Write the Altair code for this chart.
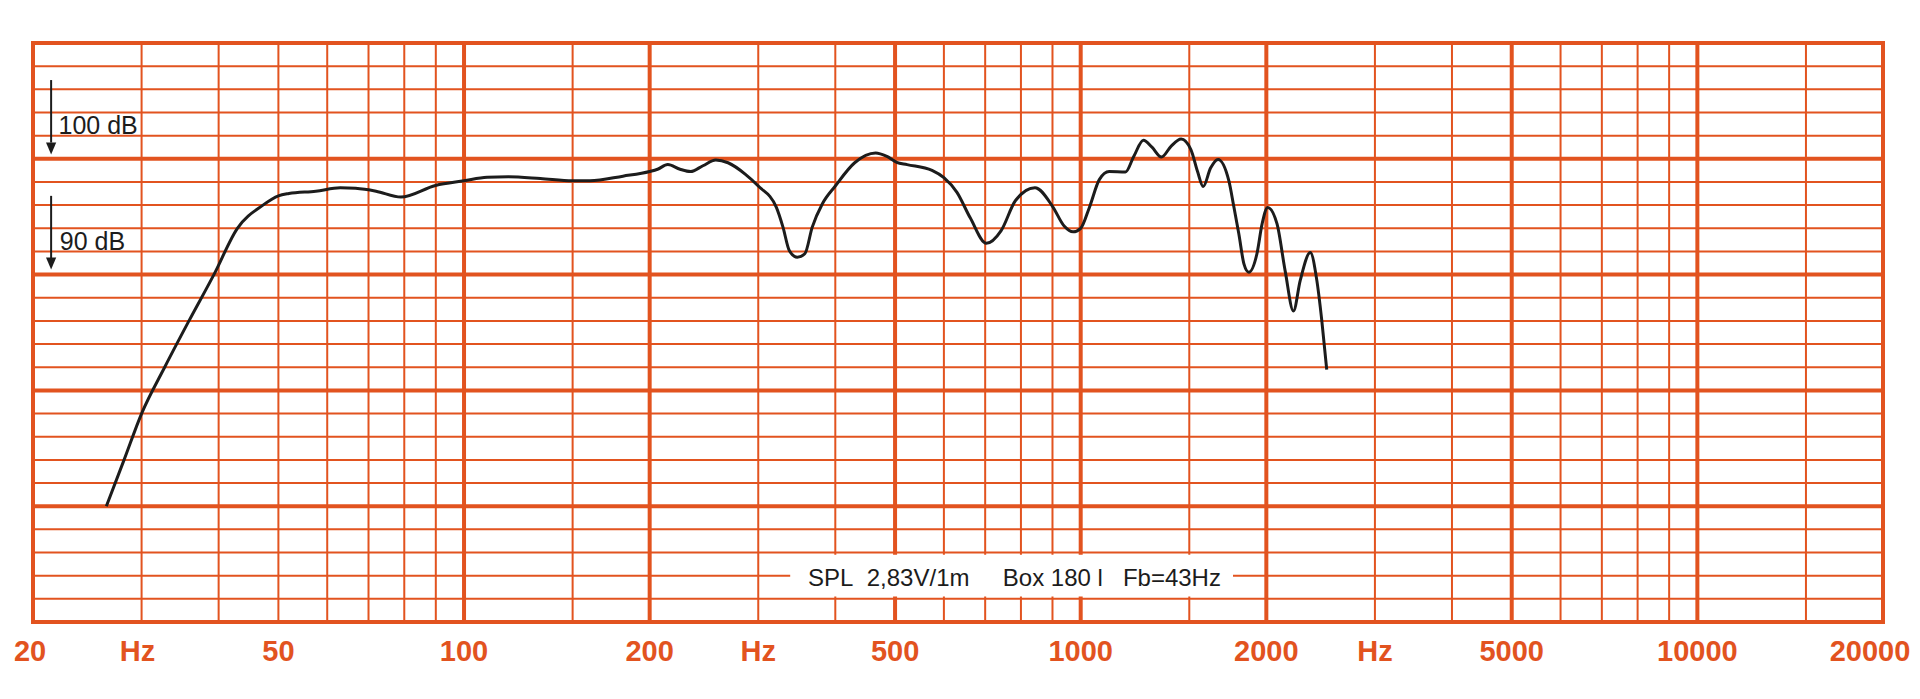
import altair as alt
import pandas as pd

# ---- curve (frequency in Hz, SPL in dB) ----
freq = [26.3, 28.1, 30, 32.7, 35.8, 39.3, 42.9, 47.2,
        50, 52, 57.5, 63, 66.7, 72, 79, 89.9,
        100, 109, 118, 133, 150, 160, 181, 200, 206, 214, 224, 233, 244, 256, 268, 286, 300,
        321, 329, 337, 347, 357, 367, 381, 400, 430, 465, 485, 503, 523, 574, 600, 630, 662,
        703, 743, 784, 843, 900, 940, 972, 1000, 1033, 1072, 1112, 1182, 1219, 1264, 1305,
        1352, 1402, 1455, 1509, 1547, 1580, 1624, 1670, 1739, 1771, 1805, 1840, 1873, 1931,
        1969, 2010, 2081, 2146, 2213, 2270, 2357, 2415, 2460, 2506]
spl = [70.0, 74.0, 78.0, 82.0, 86.0, 90.0, 94.0, 96.0,
       96.8, 97.0, 97.2, 97.5, 97.45, 97.2, 96.7, 97.7,
       98.1, 98.4, 98.45, 98.3, 98.1, 98.1, 98.5, 98.9, 99.1, 99.5, 99.1, 98.9,
       99.4, 99.9, 99.66, 98.66, 97.65, 95.8, 94.1, 92.06, 91.5, 91.8, 94.1, 96.1, 97.65, 99.66,
       100.5, 100.2, 99.7, 99.5, 99.0, 98.37, 97.1, 94.9, 92.7, 93.8, 96.4, 97.5, 95.9, 94.2,
       93.7, 94.0, 95.8, 98.2, 98.9, 98.86, 100.2, 101.6, 101.0, 100.15, 101.1, 101.7, 100.8,
       98.9, 97.6, 99.2, 99.95, 98.1, 95.9, 93.5, 90.9, 90.2, 91.8, 94.4, 95.8, 94.4, 90.3,
       86.85, 89.5, 91.9, 89.5, 86.05, 81.8]

# ---- grid ----
thin_v = [30, 40, 50, 60, 70, 80, 90, 150, 300, 400, 600, 700, 800, 900, 1500,
          3000, 4000, 6000, 7000, 8000, 9000, 15000]
thick_v = [20, 100, 200, 500, 1000, 2000, 5000, 10000, 20000]
thick_h = [60, 70, 80, 90, 100, 110]
thin_h = [v for v in range(62, 110, 2) if v % 10 != 0]

# ---- axis labels ----
lab_f = [50, 100, 200, 300, 500, 1000, 2000, 3000, 5000, 10000]
lab_t = ["50", "100", "200", "Hz", "500", "1000", "2000", "Hz", "5000", "10000"]
lab_first_f, lab_first_t = [20], ["20"]
lab_hz_f, lab_hz_t = [30], ["Hz"]
lab_last_f, lab_last_t = [20000], ["20000"]

# ---- annotations ----
db_text = ["100 dB", "90 dB"]
db_text_f = [22.0, 22.1]
db_text_y = [102.1, 92.15]
arrow_f = [21.4, 21.4]
arrow_top = [106.8, 96.8]
arrow_end = [101.4, 91.4]
arrow_tip = [100.9, 90.95]
box_f1, box_f2 = [338], [1766]
box_y1, box_y2 = [62.2], [65.8]
note_f, note_y = [781], [63.13]
NB = "\u00a0"
note_text = ["SPL" + NB * 2 + "2,83V/1m" + NB * 5 + "Box 180 l" + NB * 3 + "Fb=43Hz"]

W, H = 1850, 579
ORANGE = "#E2531F"
INK = "#1c1c1c"
LABEL_FONT = "'Liberation Sans Narrow', 'Liberation Sans', Arial, sans-serif"

xs = alt.Scale(type="log", domain=[20, 20000], nice=False)
ys = alt.Scale(domain=[60, 110], nice=False, zero=False)


def X(field):
    return alt.X(f"{field}:Q", scale=xs, axis=None)


def Y(field):
    return alt.Y(f"{field}:Q", scale=ys, axis=None)


v_thin = alt.Chart(pd.DataFrame({"f": thin_v})).mark_rule(color=ORANGE, strokeWidth=2).encode(
    x=X("f"), y=alt.value(0), y2=alt.value(H))
h_thin = alt.Chart(pd.DataFrame({"d": thin_h})).mark_rule(color=ORANGE, strokeWidth=2).encode(
    y=Y("d"), x=alt.value(0), x2=alt.value(W))
v_thick = alt.Chart(pd.DataFrame({"f": thick_v})).mark_rule(
    color=ORANGE, strokeWidth=4, strokeCap="square").encode(
    x=X("f"), y=alt.value(0), y2=alt.value(H))
h_thick = alt.Chart(pd.DataFrame({"d": thick_h})).mark_rule(
    color=ORANGE, strokeWidth=4, strokeCap="square").encode(
    y=Y("d"), x=alt.value(0), x2=alt.value(W))

box = alt.Chart(pd.DataFrame({"f1": box_f1, "f2": box_f2, "y1": box_y1, "y2": box_y2})).mark_rect(
    fill="white").encode(x=X("f1"), x2="f2:Q", y=Y("y1"), y2="y2:Q")
note = alt.Chart(pd.DataFrame({"f": note_f, "d": note_y, "t": note_text})).mark_text(
    font="Liberation Sans", fontSize=24, color=INK, align="center", baseline="alphabetic").encode(
    x=X("f"), y=Y("d"), text="t:N")

curve = alt.Chart(pd.DataFrame({"f": freq, "d": spl})).mark_line(
    color=INK, strokeWidth=3, interpolate="monotone").encode(x=X("f"), y=Y("d"))

arrows = alt.Chart(pd.DataFrame({"f": arrow_f, "a": arrow_top, "b": arrow_end})).mark_rule(
    color=INK, strokeWidth=2).encode(x=X("f"), y=Y("a"), y2="b:Q")
heads = alt.Chart(pd.DataFrame({"f": arrow_f, "d": arrow_tip})).mark_point(
    shape="M-0.85,-1L0.85,-1L0,1Z", filled=True, color=INK, opacity=1, size=144).encode(
    x=X("f"), y=Y("d"))
db_labels = alt.Chart(pd.DataFrame({"f": db_text_f, "d": db_text_y, "t": db_text})).mark_text(
    font="Liberation Sans", fontSize=25, color=INK, align="left", baseline="alphabetic").encode(
    x=X("f"), y=Y("d"), text="t:N")


def freq_labels(fs, ts, dx):
    return alt.Chart(pd.DataFrame({"f": fs, "t": ts})).mark_text(
        font=LABEL_FONT, fontSize=29, fontWeight="bold", color=ORANGE,
        align="center", baseline="alphabetic", dx=dx).encode(
        x=X("f"), y=alt.value(H + 39), text="t:N")


chart = alt.layer(
    v_thin, h_thin, v_thick, h_thick, box, note, curve, arrows, heads, db_labels,
    freq_labels(lab_f, lab_t, 0), freq_labels(lab_first_f, lab_first_t, -3),
    freq_labels(lab_hz_f, lab_hz_t, -4), freq_labels(lab_last_f, lab_last_t, -13),
).properties(
    width=W, height=H,
    autosize=alt.AutoSizeParams(type="none"),
    padding={"left": 25, "top": 35, "right": 29, "bottom": 60},
).configure_view(stroke=None).configure(background="white")

chart.save("out.html", embed_options={"renderer": "svg", "actions": False})
